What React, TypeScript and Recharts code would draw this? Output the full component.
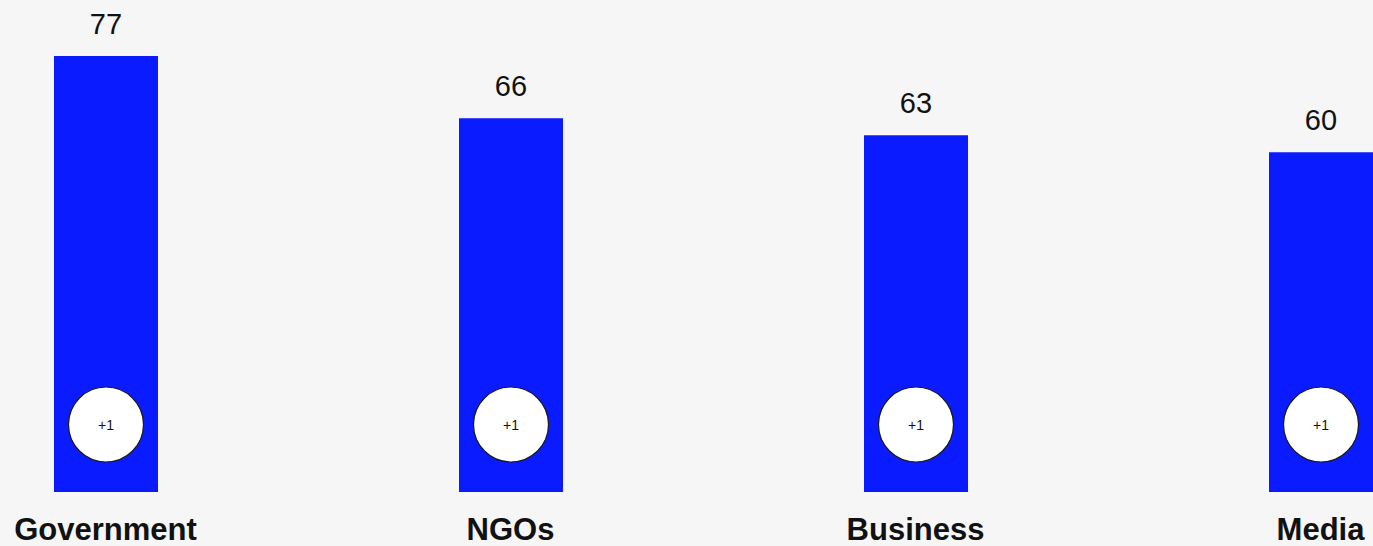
import { BarChart, Bar, XAxis, YAxis, LabelList } from "recharts";

const categories = ["Government", "NGOs", "Business", "Media"];
const values = [77, 66, 63, 60];
const badges = ["+1", "+1", "+1", "+1"];

const data = categories.map((name, i) => ({ name, value: values[i], badge: badges[i] }));

const BAR_COLOR = "#0a1cff";

function Badge(props: any) {
  const { x, y, width, height, index } = props;
  const cx = x + width / 2;
  const cy = y + height - 67.5;
  return (
    <g>
      <circle cx={cx} cy={cy} r={37.5} fill="#ffffff" stroke="#1a1a1a" strokeWidth={1.2} />
      <text
        x={cx}
        y={cy}
        textAnchor="middle"
        dominantBaseline="central"
        fontSize={14}
        fill="#111"
        fontFamily="Liberation Sans, Arial, sans-serif"
      >
        {badges[index]}
      </text>
    </g>
  );
}

export default function App() {
  return (
    <div
      style={{
        position: "absolute",
        left: 0,
        top: 0,
        width: 1373,
        height: 546,
        background: "#f6f6f6",
        overflow: "hidden",
        fontFamily: "Liberation Sans, Arial, sans-serif",
      }}
    >
      <div style={{ position: "absolute", left: -97.5, top: 0 }}>
        <BarChart width={1620} height={546} data={data} margin={{ top: 56, right: 0, bottom: 0, left: 0 }}>
          <XAxis
            dataKey="name"
            axisLine={false}
            tickLine={false}
            tickSize={0}
            tickMargin={26}
            height={54}
            interval={0}
            tick={{ fontSize: 31, fontWeight: "bold", fill: "#111" }}
          />
          <YAxis hide domain={[0, 77]} />
          <Bar dataKey="value" fill={BAR_COLOR} barSize={104} isAnimationActive={false}>
            <LabelList dataKey="value" position="top" offset={22} fontSize={29} fill="#111" />
            <LabelList dataKey="badge" content={<Badge />} />
          </Bar>
        </BarChart>
      </div>
    </div>
  );
}
